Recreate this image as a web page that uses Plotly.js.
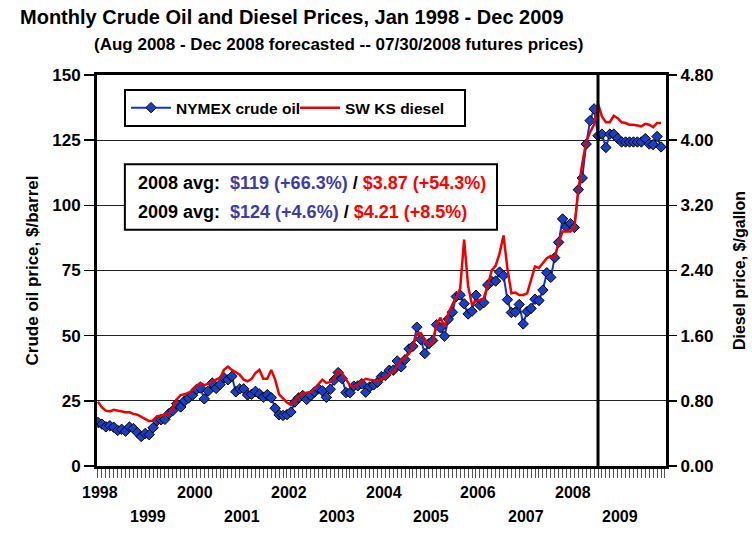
<!DOCTYPE html>
<html>
<head>
<meta charset="utf-8">
<script src="https://cdn.plot.ly/plotly-3.0.1.min.js"></script>
<style>
  html, body { margin: 0; padding: 0; background: #fff; }
  #chart { width: 752px; height: 535px; }
</style>
</head>
<body>
<div id="chart"></div>
<script>
// ---- data (monthly, Jan 1998 - Dec 2009) ----
const years = [1998, 1999, 2000, 2001, 2002, 2003, 2004, 2005, 2006, 2007, 2008, 2009];
const monthNames = ["Jan","Feb","Mar","Apr","May","Jun","Jul","Aug","Sep","Oct","Nov","Dec"];

// NYMEX crude oil, $/barrel
const crudeOil = [
  16.71, 16.06, 15.02, 15.44, 14.86, 13.66, 14.08, 13.36, 14.95, 14.39, 12.85, 11.28,
  12.47, 12.01, 14.66, 17.34, 17.75, 17.89, 20.07, 21.26, 23.88, 22.64, 24.97, 26.08,
  27.18, 29.35, 29.89, 25.74, 28.78, 31.83, 29.77, 31.22, 33.88, 33.08, 34.40, 28.46,
  29.58, 29.61, 27.24, 27.49, 28.63, 27.60, 26.43, 27.37, 26.20, 22.17, 19.64, 19.39,
  19.72, 20.72, 24.53, 26.18, 27.04, 25.52, 26.97, 28.39, 29.66, 28.84, 26.35, 29.46,
  32.95, 35.83, 33.51, 28.17, 28.11, 30.66, 30.75, 31.57, 28.31, 30.34, 31.11, 32.13,
  34.31, 34.69, 36.74, 36.75, 40.28, 38.03, 40.78, 44.90, 45.94, 53.28, 48.47, 43.15,
  46.84, 48.15, 54.19, 52.98, 49.83, 56.35, 59.00, 64.99, 65.59, 62.26, 58.32, 59.41,
  65.49, 61.63, 62.69, 69.44, 70.84, 70.95, 74.41, 73.04, 63.80, 58.89, 59.08, 61.96,
  54.51, 59.28, 60.44, 63.98, 63.46, 67.49, 74.12, 72.36, 79.92, 85.80, 94.77, 91.69,
  93.00, 91.50, 106.0, 110.5, 123.5, 132.5, 137.0, 126.7, 127.3, 122.2, 127.3, 127.3,
  125.7, 124.3, 124.3, 124.3, 124.3, 124.3, 124.3, 125.6, 123.5, 123.3, 126.4, 122.4
];

// SW KS diesel, $/gallon
const diesel = [
  0.79, 0.72, 0.68, 0.67, 0.69, 0.68, 0.67, 0.66, 0.66, 0.64, 0.63, 0.60,
  0.58, 0.55, 0.56, 0.61, 0.62, 0.63, 0.64, 0.70, 0.82, 0.87, 0.88, 0.90,
  0.93, 0.98, 1.02, 0.99, 1.01, 1.04, 1.06, 1.08, 1.18, 1.22, 1.18, 1.15,
  1.12, 1.06, 1.04, 1.07, 1.14, 1.18, 1.07, 1.07, 1.18, 1.06, 0.88, 0.83,
  0.78, 0.75, 0.79, 0.86, 0.89, 0.90, 0.91, 0.95, 1.00, 1.06, 1.02, 1.03,
  1.07, 1.17, 1.14, 1.06, 0.99, 0.97, 1.00, 1.04, 1.07, 1.06, 1.05, 1.04,
  1.07, 1.09, 1.13, 1.16, 1.23, 1.30, 1.33, 1.38, 1.47, 1.62, 1.63, 1.55,
  1.49, 1.50, 1.74, 1.82, 1.71, 1.88, 1.98, 2.08, 2.18, 2.78, 2.21, 1.98,
  2.02, 2.04, 2.06, 2.22, 2.40, 2.46, 2.61, 2.83, 2.42, 2.12, 2.13, 2.10,
  2.10, 2.12, 2.27, 2.45, 2.43, 2.49, 2.55, 2.58, 2.56, 2.74, 2.88, 2.88,
  2.88, 2.93, 3.39, 3.71, 3.98, 4.10, 4.19, 4.45, 4.29, 4.22, 4.22, 4.30,
  4.27, 4.22, 4.21, 4.19, 4.19, 4.18, 4.17, 4.20, 4.19, 4.16, 4.21, 4.21
];

const forecastStart = "Aug 2008";
const crudeTicks = [0, 25, 50, 75, 100, 125, 150];
const dieselTicks = [0, 0.8, 1.6, 2.4, 3.2, 4.0, 4.8];
const avgLines = [
  { label: "2008 avg:", crude: "$119 (+66.3%)", diesel: "$3.87 (+54.3%)" },
  { label: "2009 avg:", crude: "$124 (+4.6%)", diesel: "$4.21 (+8.5%)" }
];

// ---- build ----
const monthLabels = [];
years.forEach(y => monthNames.forEach(m => monthLabels.push(m + " " + y)));
const idx = monthLabels.map((_, i) => i);
const forecastIdx = monthLabels.indexOf(forecastStart);

const FONT = "Arial, 'Liberation Sans', Helvetica, sans-serif";
const bold = (size, color) => ({ family: FONT, size: size, color: color || "#000", weight: 700 });

const traces = [
  {
    x: idx, y: crudeOil, name: "NYMEX crude oil", type: "scatter", mode: "lines+markers",
    line: { color: "#1030e0", width: 2 },
    marker: { symbol: "diamond", size: 8, color: "#1a3fc4", line: { color: "#000", width: 1 } },
    text: monthLabels, hovertemplate: "%{text}: $%{y}<extra></extra>"
  },
  {
    x: idx, y: diesel, name: "SW KS diesel", type: "scatter", mode: "lines", yaxis: "y2",
    line: { color: "#ee0000", width: 2.5 },
    text: monthLabels, hovertemplate: "%{text}: $%{y}<extra></extra>"
  }
];

const annotations = [];
years.forEach((y, k) => {
  annotations.push({
    x: k * 12 + 0.6, xref: "x", y: (k % 2 === 0) ? -0.069 : -0.130, yref: "paper",
    text: String(y), showarrow: false, xanchor: "center", yanchor: "middle",
    font: bold(16)
  });
});
annotations.push({
  text: "(Aug 2008 - Dec 2008 forecasted -- 07/30/2008 futures prices)",
  xref: "paper", yref: "paper", x: -0.0088, y: 1.079, xanchor: "left", yanchor: "middle",
  showarrow: false, font: bold(17)
});
const lineY = [0.724, 0.650];
avgLines.forEach((a, k) => {
  annotations.push({
    xref: "paper", yref: "paper", x: 0.0685, y: lineY[k], xanchor: "left", yanchor: "middle",
    showarrow: false, font: bold(18),
    text: a.label + "\u00a0\u00a0<span style='color:#3d3daa'>" + a.crude + "</span> / " +
          "<span style='color:#ff0000'>" + a.diesel + "</span>"
  });
});

const layout = {
  width: 752, height: 535,
  margin: { l: 97, r: 86, t: 75, b: 69, pad: 0 },
  paper_bgcolor: "#fff", plot_bgcolor: "#fff",
  showlegend: true,
  title: {
    text: "Monthly Crude Oil and Diesel Prices, Jan 1998 - Dec 2009",
    xref: "container", yref: "container", x: 20 / 752, xanchor: "left",
    y: 1 - 17 / 535, yanchor: "middle", font: bold(20)
  },
  xaxis: {
    range: [-0.25, 144.27], showgrid: false, zeroline: false,
    showline: true, linecolor: "#000", linewidth: 3, mirror: true,
    tickmode: "linear", tick0: 0, dtick: 1, ticks: "outside", ticklen: 9,
    tickcolor: "#555", tickwidth: 1, showticklabels: false
  },
  yaxis: {
    range: [0, 150], tickmode: "array", tickvals: crudeTicks,
    ticks: "outside", ticklen: 10, tickwidth: 1.5, tickcolor: "#000",
    showline: true, linecolor: "#000", linewidth: 3,
    showgrid: true, gridcolor: "#222", gridwidth: 1, zeroline: false,
    tickfont: bold(17),
    title: { text: "Crude oil price, $/barrel", font: bold(17), standoff: 10 }
  },
  yaxis2: {
    overlaying: "y", side: "right", range: [0, 4.8], tickmode: "array", tickvals: dieselTicks,
    tickformat: ".2f", ticks: "outside", ticklen: 8, tickwidth: 1.5, tickcolor: "#000",
    showline: true, linecolor: "#000", linewidth: 3, showgrid: false, zeroline: false,
    tickfont: bold(17),
    title: { text: "Diesel price, $/gallon", font: bold(16), standoff: 22 }
  },
  legend: {
    orientation: "h", x: 0.0475, y: 0.964, xanchor: "left", yanchor: "top",
    bgcolor: "#fff", bordercolor: "#000", borderwidth: 2, font: bold(15.5),
    itemwidth: 40, entrywidth: 114, entrywidthmode: "pixels",
    itemclick: false, itemdoubleclick: false
  },
  shapes: [
    { type: "line", xref: "x", yref: "paper", x0: forecastIdx, x1: forecastIdx, y0: 0, y1: 1,
      line: { color: "#000", width: 3 } },
    { type: "rect", xref: "paper", yref: "paper", x0: 0.049, x1: 0.703, y0: 0.604, y1: 0.772,
      fillcolor: "#fff", line: { color: "#000", width: 2 }, layer: "above" }
  ],
  annotations: annotations
};

Plotly.newPlot("chart", traces, layout, { displayModeBar: false, staticPlot: true });
</script>
</body>
</html>
